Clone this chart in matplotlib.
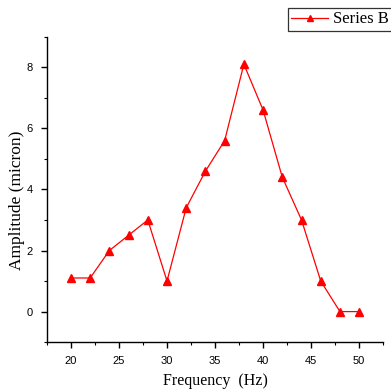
import matplotlib
matplotlib.use("Agg")
import matplotlib.pyplot as plt
from matplotlib.ticker import MultipleLocator

freq = [20, 22, 24, 26, 28, 30, 32, 34, 36, 38, 40, 42, 44, 46, 48, 50]
amp = [1.1, 1.1, 2.0, 2.5, 3.0, 1.0, 3.4, 4.6, 5.6, 8.1, 6.6, 4.4, 3.0, 1.0, 0.0, 0.0]
series_name = "Series B"
xlabel = "Frequency  (Hz)"
ylabel = "Amplitude (micron)"

fig = plt.figure(figsize=(3.91, 3.91), dpi=100)
ax = fig.add_axes([0.120, 0.125, 0.860, 0.781])
line, = ax.plot(freq, amp, color="red", lw=0.9, marker="^", markersize=6,
                markerfacecolor="red", markeredgecolor="red", label=series_name)
ax.set_xlim(17.5, 52.5)
ax.set_ylim(-1, 9)
ax.xaxis.set_major_locator(MultipleLocator(5))
ax.xaxis.set_minor_locator(MultipleLocator(2.5))
ax.yaxis.set_major_locator(MultipleLocator(2))
ax.yaxis.set_minor_locator(MultipleLocator(1))
for s in ["top", "right"]:
    ax.spines[s].set_visible(False)
for s in ["left", "bottom"]:
    ax.spines[s].set_linewidth(1.0)
ax.tick_params(which="major", direction="out", length=4, width=1.0,
               labelsize=8, pad=6)
ax.tick_params(which="minor", direction="out", length=2.5, width=0.8)
for lab in ax.get_xticklabels() + ax.get_yticklabels():
    lab.set_fontfamily("Liberation Sans")
ax.set_xlabel(xlabel, fontfamily="Liberation Serif", fontsize=11.5, labelpad=5)
ax.set_ylabel(ylabel, fontfamily="Liberation Serif", fontsize=12.5)
ax.yaxis.set_label_coords(-0.065, 0.465)

leg = fig.legend(handles=[line], loc="upper left", bbox_to_anchor=(288/391, 1-8/391),
                 frameon=True, fancybox=False, edgecolor="black",
                 prop={"family": "Liberation Serif", "size": 12},
                 handlelength=2.2, handletextpad=0.3, borderpad=0.2,
                 borderaxespad=0, markerscale=0.8)
leg.get_frame().set_linewidth(0.9)

fig.savefig("out.png", dpi=100)
